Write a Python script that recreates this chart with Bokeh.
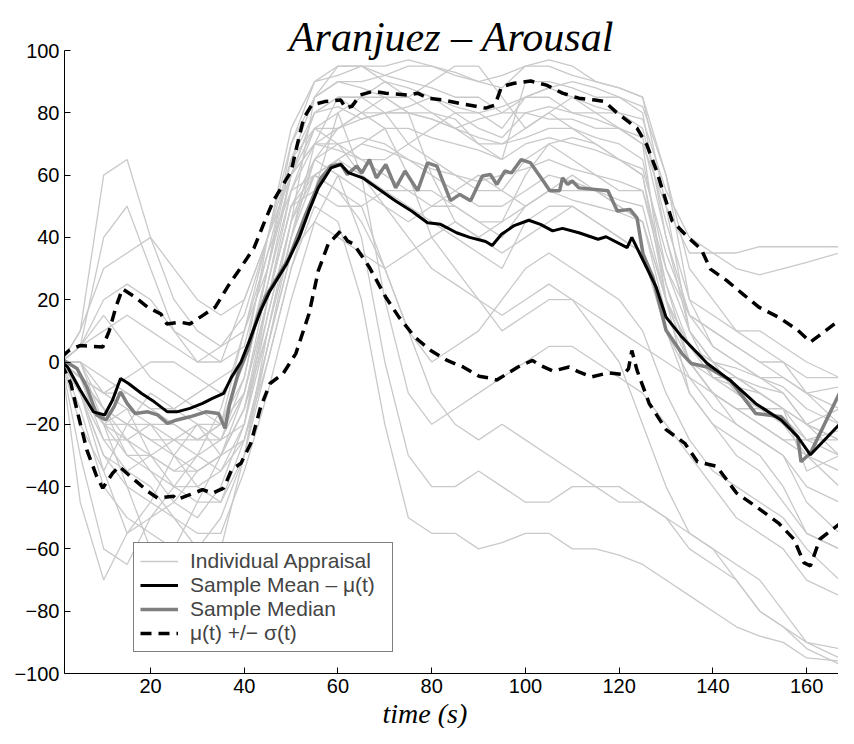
from bokeh.plotting import figure
from bokeh.models import Legend, LegendItem, Range1d, FixedTicker, Title
from bokeh.embed import file_html
from bokeh.resources import INLINE

# ---------------- data ----------------
mean_t = [1, 2.3, 5, 7.8, 10.2, 11.9, 13.6, 15.3, 18.1, 20.8, 23.6, 25.6, 28.4, 31.1, 33.2, 35.6,
          37.3, 39.3, 41.4, 43.5, 45.5, 49, 51.7, 53.8, 55.8, 58.5, 60.6, 62.3, 65.4, 68.8, 72.3,
          75.7, 79.1, 81.9, 85.3, 88.1, 91.5, 92.9, 94.9, 97.6, 100.7, 103.2, 105.8, 107.9, 111.4,
          115.5, 117.2, 121.7, 122.7, 125.1, 127.9, 130, 133.4, 138.8, 143.7, 149.1, 154.6, 158.1,
          160.8, 167]
mean_v = [0, -1.6, -9, -16, -17, -12.2, -5.3, -6.9, -10.1, -12.8, -16, -16, -14.9, -13.3, -11.7,
          -10.1, -4.8, 0, 8, 16.5, 22.9, 31.4, 39.9, 48.5, 55.9, 62.3, 63.4, 60.7, 59, 55.4, 51.7,
          48.5, 44.7, 44.2, 41.5, 40, 38.7, 37.4, 41, 43.8, 45.5, 44.2, 42.1, 42.9, 41.5, 39.4, 40.2,
          36.7, 40, 32.6, 24, 14.4, 8, -0.5, -5.9, -13.3, -18.7, -24, -29.8, -20]

med_t = [1, 4.3, 6.4, 8.5, 10.5, 12.2, 13.6, 15, 16.7, 19.4, 21.5, 23.6, 25.6, 28.4, 31.8, 34.5,
         35.9, 36.9, 38.7, 40.7, 42.8, 44.5, 49.6, 53.1, 56.4, 58.5, 60.6, 62, 64, 65.1, 66.7, 68.2,
         70.2, 72.3, 74.3, 77, 79.1, 81.1, 84, 86, 88.3, 90.8, 92.5, 93.9, 95.6, 97, 99.1, 101.1,
         103.8, 105.2, 107.3, 107.9, 109, 110, 111.4, 117.6, 119.6, 122.3, 123.8, 125.1, 127.2, 130,
         133.4, 135.4, 138.8, 143.7, 149.1, 154.6, 158.1, 158.8, 160.8, 167]
med_v = [1, -2.1, -8, -17, -18.6, -14.4, -9.6, -13.3, -16.5, -16, -17, -19.7, -18.6, -17.6, -16,
         -16.5, -21.3, -13.3, -3.7, 3.7, 14.4, 20.8, 33.5, 47.4, 59.1, 62.9, 63.6, 60.2, 62.9, 60.7,
         65, 59.1, 63.4, 55.9, 61.3, 55, 63.9, 62.9, 51.8, 53.8, 51.8, 59.7, 60.2, 57, 61.3, 60.7, 65,
         63.9, 58.1, 55, 55, 59.1, 57, 58.1, 55.9, 55, 48.5, 49, 46.3, 34.6, 27.2, 10.2, 2.7, -0.5,
         -1.6, -5.9, -16.5, -17.6, -24, -32, -29.3, -10]

up_t = [1, 2.6, 5, 9.8, 11.2, 12.6, 14, 16.7, 19.4, 22.2, 23.5, 26.3, 28.4, 31.1, 33.8, 36.6, 39.3,
        42.1, 44.1, 46.2, 48.3, 50, 51.3, 52.7, 54.4, 57.2, 60.6, 61.6, 63, 64.7, 67.5, 70.2, 75, 77,
        79.1, 82.6, 86, 89.4, 91.5, 93.5, 94.9, 97.6, 101.1, 104.5, 107.9, 111.4, 114.8, 116.9,
        119.6, 123.8, 125.9, 128, 131.3, 134.7, 137.5, 139.5, 142.9, 146.4, 149.8, 154, 158.1,
        160.8, 167]
up_v = [1.6, 3.7, 5.3, 4.8, 10.1, 17.6, 23.5, 20.8, 17.6, 15.4, 12.2, 12.8, 12.2, 14.9, 17.6, 24.5,
        30.4, 36.7, 44.2, 51.7, 57, 61.2, 69.7, 78.3, 82.5, 83.6, 84.1, 81.5, 82.1, 85.7, 86.9, 86.3,
        85.7, 86.3, 84.7, 84.1, 83, 82.1, 81.5, 82.5, 88.4, 89.5, 90.2, 88.9, 86.3, 84.7, 84.1, 83.6,
        79.9, 75.1, 69.7, 61.3, 45.3, 40, 36.2, 29.8, 26.2, 21.8, 17.6, 14.4, 10.2, 6.4, 13.4]

lo_t = [1, 3, 4.3, 6.4, 8.5, 9.8, 11.9, 13.3, 15.3, 17.4, 19.4, 21.5, 24.9, 25.6, 28.4, 31.1, 33.2,
        35.6, 37.3, 39.3, 41.4, 43.5, 45.5, 48.3, 51, 53.8, 55.8, 57.9, 60.6, 62, 63.4, 66.7, 70.2,
        73, 76.4, 79.8, 83.3, 86.7, 90.1, 92.2, 93.9, 95.6, 98.4, 101.5, 103.2, 105.9, 109.3, 111.4,
        114.1, 117.6, 121, 122, 122.7, 123.8, 126.4, 130, 134, 136.7, 140.8, 145, 149.1, 154,
        157.3, 159.4, 160.8, 162.8, 167]
lo_v = [-0.5, -6.9, -15.4, -28.2, -36.7, -40.5, -35.7, -33.5, -36.2, -38.9, -41.5, -43.7, -43.1,
        -44.2, -42.6, -41, -42.1, -40.5, -34.6, -32.5, -26.1, -14.4, -6.9, -3.7, 2.7, 15.4, 29.3,
        37.8, 42.1, 38.9, 37.8, 30.4, 20.8, 14.4, 8, 3.7, 0.5, -1.6, -4.6, -5.1, -5.8, -4.2, -1.6,
        0.5, -1.1, -2.9, -1.6, -3.2, -4.8, -3.5, -4, -2.1, 3.7, -2.6, -13.3, -21.7, -26.1, -32,
        -33.5, -42, -46.3, -51.7, -56.9, -64.4, -65.5, -56.9, -52]

# individual appraisals, sampled at these times
ind_t = [1, 5, 10, 15, 20, 25, 30, 35, 40, 45, 50, 55, 60, 65, 70, 75, 80, 85, 90, 95, 100, 105,
         110, 115, 120, 125, 130, 135, 140, 145, 150, 155, 160, 167]
ind_01 = [0, -10, -20, -20, -25, -25, -20, -20, 10, 40, 70, 85, 90, 90, 92, 95, 95, 93, 90, 88, 95, 97, 95, 90, 88, 85, 60, 30, 20, 10, 5, 0, -10, -20]
ind_02 = [0, -5, -15, -30, -30, -35, -30, -25, -5, 30, 60, 75, 75, 80, 80, 70, 75, 80, 80, 75, 85, 85, 80, 80, 75, 70, 20, 0, -10, -15, -20, -25, -30, -40]
ind_03 = [0, 5, 40, 50, 30, 10, 0, 0, 20, 40, 60, 80, 85, 85, 85, 80, 80, 78, 70, 65, 90, 90, 88, 85, 85, 80, 40, 15, 5, 0, -5, -10, -20, -30]
ind_04 = [0, -15, -40, -50, -55, -60, -45, -30, -15, 10, 40, 60, 65, 60, 55, 50, 45, 40, 35, 30, 45, 50, 50, 45, 40, 35, 10, -10, -20, -25, -30, -40, -55, -60]
ind_05 = [0, 10, 60, 65, 40, 20, 10, 5, 10, 30, 70, 90, 95, 95, 92, 90, 88, 85, 85, 80, 80, 78, 78, 75, 75, 70, 50, 35, 35, 35, 37, 37, 37, 37]
ind_06 = [0, -20, -35, -20, -10, -15, -20, -25, -20, 20, 50, 65, 60, 40, 0, -30, -40, -40, -35, -40, -45, -45, -40, -40, -40, -45, -50, -55, -60, -65, -70, -80, -90, -92]
ind_07 = [0, -5, -10, -10, -15, -15, -10, -5, 0, 25, 55, 70, 70, 65, 65, 70, 65, 60, 55, 55, 65, 70, 65, 60, 55, 55, 30, 10, 0, -10, -15, -15, -20, -25]
ind_08 = [0, -30, -60, -65, -50, -40, -40, -45, -25, 0, 30, 55, 80, 60, 20, -10, -20, -15, -10, -5, 0, 5, 5, 0, -5, -10, -20, -30, -40, -50, -55, -60, -70, -75]
ind_09 = [0, 0, -20, -40, -60, -70, -75, -60, -30, 10, 45, 65, 75, 80, 85, 85, 80, 75, 70, 70, 75, 80, 75, 70, 65, 60, 25, 5, -5, -5, -10, -15, -20, -15]
ind_10 = [0, -5, -25, -25, -20, -20, -25, -25, -10, 20, 50, 55, 50, 50, 55, 55, 50, 50, 45, 40, 50, 55, 55, 55, 50, 45, 15, 0, -5, -8, -10, -15, -35, -30]
ind_11 = [0, 5, 20, 25, 20, 10, 5, 0, 5, 35, 65, 80, 85, 80, 75, 60, 40, 30, 20, 10, 15, 20, 20, 15, 10, 5, 0, -5, -10, -15, -20, -25, -25, -25]
ind_12 = [0, -10, -30, -40, -45, -50, -55, -55, -35, -10, 20, 45, 60, 55, 50, 40, 30, 25, 20, 15, 20, 25, 20, 10, 0, -20, -40, -55, -60, -70, -80, -85, -90, -95]
ind_13 = [0, 0, -15, -20, -25, -30, -35, -30, -15, 15, 45, 85, 95, 95, 90, 85, 90, 95, 95, 85, 75, 80, 85, 80, 80, 75, 45, 20, 15, 10, 10, 5, 0, -5]
ind_14 = [0, -5, -10, -5, 0, 0, -5, -10, 0, 30, 60, 70, 75, 78, 80, 80, 78, 75, 72, 70, 72, 75, 75, 72, 70, 65, 30, 15, 10, 5, 0, -5, -10, -15]
ind_15 = [0, -5, -20, -30, -35, -40, -30, -15, 10, 35, 55, 60, 55, 45, 30, 10, -10, -20, -25, -20, -25, -30, -35, -40, -45, -45, -50, -60, -65, -70, -80, -85, -92, -97]
ind_16 = [0, 5, 10, 15, 10, 5, 0, 5, 15, 40, 65, 75, 80, 85, 90, 88, 85, 82, 80, 82, 85, 88, 85, 82, 80, 78, 55, 40, 35, 30, 28, 30, 32, 35]
ind_17 = [0, -10, -35, -55, -45, -30, -20, -30, -25, 5, 35, 45, 40, 35, 30, 35, 40, 45, 40, 35, 40, 45, 50, 45, 40, 35, 10, -5, -15, -20, -25, -30, -45, -55]
ind_18 = [0, -10, -20, -15, -20, -30, -40, -35, -20, 15, 45, 60, 55, 50, 30, 10, 0, 5, 10, 20, 30, 35, 30, 25, 20, 10, -10, -25, -35, -40, -45, -50, -60, -70]
ind_19 = [0, -5, -15, -25, -35, -45, -50, -40, -20, 10, 40, 70, 85, 85, 80, 80, 78, 75, 78, 80, 85, 88, 90, 88, 85, 82, 60, 20, 5, 0, -5, -5, -10, -8]
ind_20 = [0, 0, -5, -10, -15, -20, -25, -20, -10, 20, 50, 60, 65, 70, 68, 65, 60, 55, 50, 50, 55, 60, 58, 55, 52, 50, 20, 5, 0, -2, -5, -8, -15, -20]
ind_21 = [0, -45, -70, -55, -50, -45, -35, -30, -15, 20, 55, 75, 70, 60, 50, 45, 50, 55, 60, 55, 50, 55, 60, 55, 50, 45, 20, 0, -10, -20, -25, -30, -40, -45]
ind_22 = [0, -10, -25, -35, -40, -50, -60, -50, -30, 0, 30, 50, 45, 20, -20, -50, -55, -55, -60, -58, -55, -55, -60, -60, -62, -65, -70, -75, -80, -85, -88, -90, -95, -96]
ind_23 = [0, -5, -15, -20, -20, -25, -25, -20, 0, 40, 75, 90, 92, 95, 95, 97, 95, 92, 90, 92, 95, 95, 92, 90, 88, 85, 50, 10, 0, -5, -10, -15, -25, -30]
ind_24 = [0, 0, -10, -15, -30, -35, -35, -30, -10, 25, 60, 80, 82, 78, 80, 82, 85, 80, 75, 72, 80, 82, 80, 78, 75, 72, 40, 10, -5, -10, -15, -20, -30, -35]
ind_25 = [0, -10, -30, -35, -30, -25, -30, -35, -25, 5, 40, 65, 70, 72, 70, 65, 62, 60, 58, 60, 62, 65, 62, 60, 58, 55, 25, 0, -10, -15, -15, -18, -25, -22]
ind_26 = [0, 5, 15, 5, -5, -10, -15, -20, -5, 30, 65, 85, 90, 88, 85, 80, 60, 45, 40, 45, 60, 70, 72, 70, 65, 60, 20, -10, -20, -30, -35, -45, -55, -60]
ind_27 = [0, -5, -20, -25, -30, -40, -45, -45, -30, 5, 35, 55, 65, 70, 75, 75, 72, 70, 68, 65, 70, 72, 70, 68, 65, 62, 35, 15, 10, 5, 0, 0, -5, -5]
ind_28 = [0, 10, 30, 35, 40, 30, 20, 15, 20, 40, 60, 70, 68, 65, 60, 55, 55, 50, 45, 45, 50, 55, 52, 50, 48, 45, 20, 5, 0, -5, -8, -10, -20, -25]
ind_groups = [ind_01, ind_02, ind_03, ind_04, ind_05, ind_06, ind_07, ind_08, ind_09, ind_10, ind_11,
              ind_12, ind_13, ind_14, ind_15, ind_16, ind_17, ind_18, ind_19, ind_20, ind_21, ind_22,
              ind_23, ind_24, ind_25, ind_26, ind_27, ind_28]

x_ticks = [20, 40, 60, 80, 100, 120, 140, 160]
y_ticks = [-100, -80, -60, -40, -20, 0, 20, 40, 60, 80, 100]
y_tick_labels = ["\u2212100", "\u221280", "\u221260", "\u221240", "\u221220", "0", "20", "40", "60", "80", "100"]

title_text = "Aranjuez \u2013 Arousal"
xlabel_text = "time (s)"
legend_labels = ["Individual Appraisal", "Sample Mean \u2013 \u03bc(t)", "Sample Median", "\u03bc(t) +/\u2212 \u03c3(t)"]

# ---------------- figure ----------------
p = figure(width=838, height=728, output_backend="svg", toolbar_location=None,
           x_range=Range1d(1.64, 166.8), y_range=Range1d(-100, 100),
           min_border_left=64, min_border_right=0, min_border_top=50, min_border_bottom=4)
p.background_fill_color = "white"
p.border_fill_color = "white"
p.outline_line_color = None
p.xgrid.visible = False
p.ygrid.visible = False

p.title.text = title_text
p.title.text_font = "Liberation Serif"
p.title.text_font_style = "italic"
p.title.text_font_size = "42px"
p.title.text_color = "black"
p.title.align = "center"
p.title.standoff = -18
p.title.offset = 4

for ax in (p.xaxis[0], p.yaxis[0]):
    ax.axis_line_color = "black"
    ax.axis_line_width = 1
    ax.major_tick_in = 6
    ax.major_tick_out = 0
    ax.major_tick_line_color = "black"
    ax.minor_tick_line_color = None
    ax.major_label_text_font = "Liberation Sans"
    ax.major_label_text_font_size = "20px"
    ax.major_label_text_color = "black"

p.xaxis.ticker = FixedTicker(ticks=x_ticks)
p.xaxis.major_label_standoff = 5
p.yaxis.ticker = FixedTicker(ticks=y_ticks)
p.yaxis.major_label_overrides = {t: s for t, s in zip(y_ticks, y_tick_labels)}
p.yaxis.major_label_standoff = 5

p.add_layout(Title(text=xlabel_text, text_font="Liberation Serif", text_font_style="italic",
                   text_font_size="28px", text_color="black", align="left", offset=318,
                   standoff=0), "below")

r_ind = p.multi_line(xs=[ind_t] * len(ind_groups), ys=ind_groups,
                     line_color="#c9c9c9", line_width=1.3)
r_med = p.line(med_t, med_v, line_color="#7f7f7f", line_width=3.5)
r_mean = p.line(mean_t, mean_v, line_color="black", line_width=3)
r_up = p.line(up_t, up_v, line_color="black", line_width=3.5, line_dash="11 7")
r_lo = p.line(lo_t, lo_v, line_color="black", line_width=3.5, line_dash="11 7")

legend = Legend(items=[
    LegendItem(label=legend_labels[0], renderers=[r_ind]),
    LegendItem(label=legend_labels[1], renderers=[r_mean]),
    LegendItem(label=legend_labels[2], renderers=[r_med]),
    LegendItem(label=legend_labels[3], renderers=[r_up]),
], location=(69, 21))
legend.border_line_color = "black"
legend.border_line_width = 1
legend.background_fill_color = "white"
legend.background_fill_alpha = 1
legend.label_text_font = "Liberation Sans"
legend.label_text_font_size = "21px"
legend.label_standoff = 12
legend.glyph_width = 38
legend.glyph_height = 20
legend.label_height = 24
legend.label_width = 196
legend.padding = 6
legend.spacing = 0
legend.margin = 0
p.add_layout(legend)

open("out.html", "w").write(file_html(p, INLINE))
